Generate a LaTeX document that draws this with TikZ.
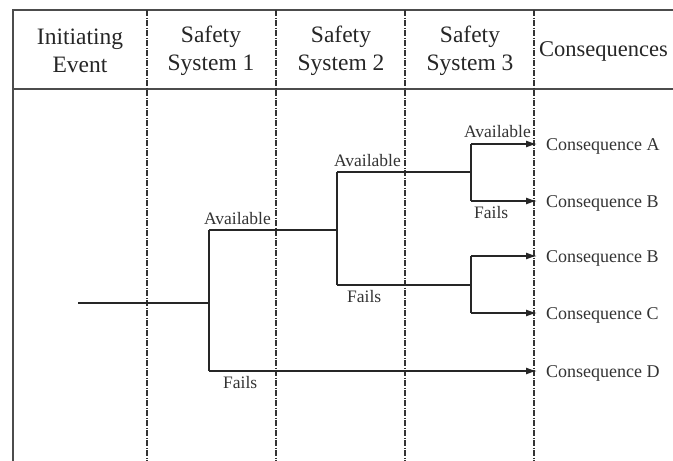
\documentclass[tikz,border=0pt]{standalone}
\usepackage{fontspec}
\setmainfont{Liberation Serif}
\usetikzlibrary{arrows.meta}

\begin{document}
\begin{tikzpicture}[x=1pt,y=-1pt,
	frame/.style={line width=1.6pt,black!70},
	colsep/.style={line width=1.1pt,black!80,dash pattern=on 6pt off 1.5pt on 1pt off 1.5pt},
	branch/.style={line width=1.3pt,black!85},
	outcome/.style={branch,-{Latex[length=11pt,width=7pt]}},
	head/.style={align=center,font=\fontsize{23.5}{28}\selectfont,text=black!85,inner sep=0pt},
	avail/.style={font=\fontsize{17.5}{20}\selectfont,text=black!80,inner sep=0pt,anchor=south east},
	fails/.style={avail,anchor=north west},
	conseq/.style={font=\fontsize{18}{20}\selectfont,text=black!80,anchor=west,inner xsep=9pt,inner ysep=0pt,text height=12pt,text depth=0pt}]
	\useasboundingbox (0,0) rectangle (673,461);
	\draw[frame] (673,10) -- (13,10) -- (13,461);
	\draw[frame] (13,89) -- (673,89);
	\foreach \x in {147,276,405,534}
		\draw[colsep] (\x,10) -- (\x,461);
	\node[head] (hInit) at (80,51) {Initiating\\Event};
	\node[head] (hSysA) at (211,51) {Safety\\System 1};
	\node[head] (hSysB) at (341,51) {Safety\\System 2};
	\node[head] (hSysC) at (470,51) {Safety\\System 3};
	\node[head,anchor=west,font=\fontsize{22.5}{28}\selectfont] (hCons) at (539,51) {Consequences};
	\coordinate (init) at (78,303);
	\coordinate (sysA) at (209,303);
	\coordinate (sysAok) at (209,230);
	\coordinate (sysAno) at (209,371);
	\coordinate (sysB) at (337,230);
	\coordinate (sysBok) at (337,172);
	\coordinate (sysBno) at (337,285);
	\coordinate (sysCa) at (471,172);
	\coordinate (sysCaok) at (471,144);
	\coordinate (sysCano) at (471,201);
	\coordinate (sysCb) at (471,285);
	\coordinate (sysCbok) at (471,256);
	\coordinate (sysCbno) at (471,313);
	\node[conseq] (conA) at (537,144) {Consequence A};
	\node[conseq] (conB) at (537,201) {Consequence B};
	\node[conseq] (conBB) at (537,256) {Consequence B};
	\node[conseq] (conC) at (537,313) {Consequence C};
	\node[conseq] (conD) at (537,371) {Consequence D};
	\node[avail] (okA) at (271,225) {Available};
	\node[avail] (okB) at (401,167) {Available};
	\node[avail] (okC) at (531,138) {Available};
	\node[fails] (noA) at (223,376) {Fails};
	\node[fails] (noB) at (347,290) {Fails};
	\node[fails] (noC) at (474,206) {Fails};
	\draw[branch] (init) -- (sysA);
	\draw[branch] (sysAok) -- (sysAno);
	\draw[branch] (sysAok) -- (sysB);
	\draw[branch] (sysBok) -- (sysBno);
	\draw[branch] (sysBok) -- (sysCa);
	\draw[branch] (sysBno) -- (sysCb);
	\draw[branch] (sysCaok) -- (sysCano);
	\draw[branch] (sysCbok) -- (sysCbno);
	\draw[outcome] (sysCaok) -- (conA.west);
	\draw[outcome] (sysCano) -- (conB.west);
	\draw[outcome] (sysCbok) -- (conBB.west);
	\draw[outcome] (sysCbno) -- (conC.west);
	\draw[outcome] (sysAno) -- (conD.west);
\end{tikzpicture}
\end{document}
